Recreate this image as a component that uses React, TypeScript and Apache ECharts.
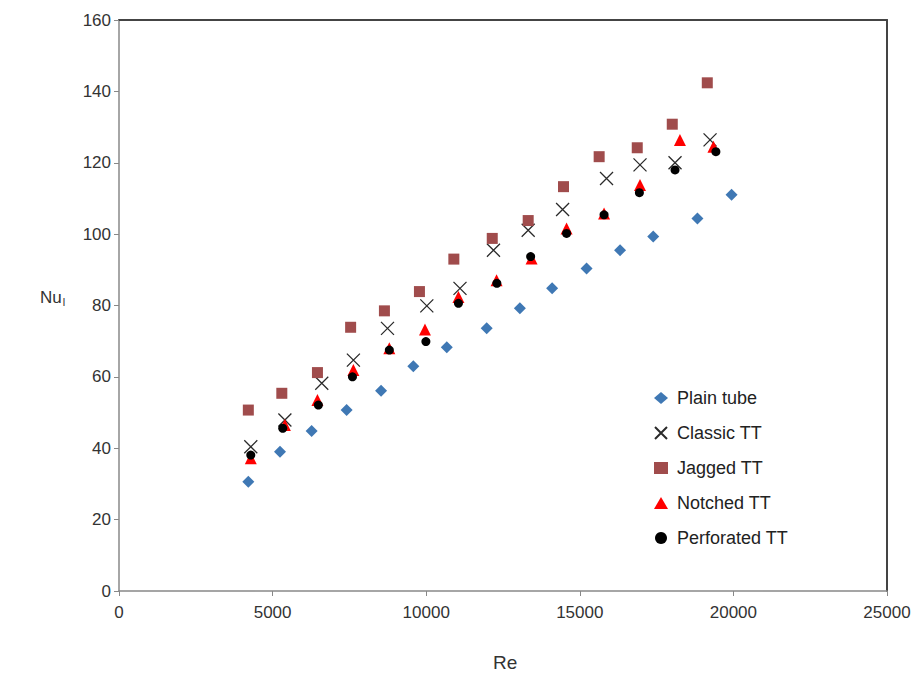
import React, { useEffect, useRef } from "react";
import * as echarts from "echarts";

// Re and Nu_l values
const plainRe = [4210, 5240, 6270, 7410, 8530, 9580, 10670, 11970, 13050, 14100, 15220, 16310, 17390, 18830, 19940];
const plainNu = [30.6, 39.0, 44.8, 50.7, 56.1, 63.0, 68.3, 73.6, 79.2, 84.8, 90.4, 95.5, 99.3, 104.4, 111.0];

const classicRe = [4290, 5400, 6600, 7630, 8740, 10020, 11100, 12190, 13320, 14440, 15870, 16960, 18100, 19240];
const classicNu = [40.4, 47.9, 58.2, 64.7, 73.6, 79.9, 84.8, 95.5, 101.1, 106.9, 115.6, 119.4, 120.0, 126.4];

const jaggedRe = [4210, 5300, 6460, 7540, 8640, 9780, 10900, 12150, 13320, 14470, 15630, 16870, 18010, 19150];
const jaggedNu = [50.7, 55.4, 61.2, 73.9, 78.5, 83.9, 93.0, 98.8, 103.8, 113.3, 121.7, 124.2, 130.8, 142.4];

const notchedRe = [4290, 5400, 6460, 7630, 8800, 9960, 11050, 12290, 13430, 14570, 15790, 16960, 18260, 19350];
const notchedNu = [37.2, 46.5, 53.5, 61.9, 68.0, 73.3, 82.4, 87.1, 93.2, 101.6, 105.8, 113.8, 126.4, 124.5];

const perforatedRe = [4290, 5330, 6490, 7600, 8800, 9990, 11050, 12300, 13400, 14570, 15790, 16940, 18100, 19430];
const perforatedNu = [38.1, 45.6, 52.1, 60.0, 67.5, 69.9, 80.6, 86.2, 93.7, 100.2, 105.4, 111.6, 118.0, 123.1];

const seriesNames = ["Plain tube", "Classic TT", "Jagged TT", "Notched TT", "Perforated TT"];

const pairs = (xs: number[], ys: number[]) => xs.map((x, i) => [x, ys[i]]);

const CROSS = "path://M0,0L10,10M10,0L0,10";
const FONT = "Liberation Sans, Arial, sans-serif";

export default function App() {
  const ref = useRef<HTMLDivElement>(null);
  useEffect(() => {
    document.body.style.margin = "0";
    const chart = echarts.init(ref.current!, null, { renderer: "svg" });
    const labelStyle = { fontFamily: FONT, fontSize: 17, color: "#333", formatter: (v: number) => String(v) };
    chart.setOption({
      animation: false,
      backgroundColor: "#fff",
      grid: { left: 119, top: 20, right: 31, bottom: 84, show: false },
      xAxis: [
        {
          type: "value",
          min: 0,
          max: 25000,
          interval: 5000,
          splitLine: { show: false },
          axisLine: { show: true, onZero: false, lineStyle: { color: "#888", width: 1.5 } },
          axisTick: { show: true, inside: false, length: 5, lineStyle: { color: "#888" } },
          axisLabel: { ...labelStyle, margin: 13 },
        },
        {
          type: "value",
          position: "top",
          min: 0,
          max: 25000,
          interval: 5000,
          splitLine: { show: false },
          axisLine: { show: true, onZero: false, lineStyle: { color: "#444", width: 2 } },
          axisTick: { show: false },
          axisLabel: { show: false },
        },
      ],
      yAxis: [
        {
          type: "value",
          min: 0,
          max: 160,
          interval: 20,
          splitLine: { show: false },
          axisLine: { show: true, onZero: false, lineStyle: { color: "#888", width: 1.5 } },
          axisTick: { show: true, inside: false, length: 5, lineStyle: { color: "#888" } },
          axisLabel: { ...labelStyle, margin: 8 },
        },
        {
          type: "value",
          position: "right",
          min: 0,
          max: 160,
          interval: 20,
          splitLine: { show: false },
          axisLine: { show: true, onZero: false, lineStyle: { color: "#444", width: 2 } },
          axisTick: { show: false },
          axisLabel: { show: false },
        },
      ],
      legend: {
        orient: "vertical",
        left: 649,
        top: 383,
        itemGap: 15,
        itemWidth: 14,
        itemHeight: 12,
        textStyle: { fontFamily: FONT, fontSize: 18, color: "#222", lineHeight: 20, padding: [0, 0, 0, 4] },
        data: seriesNames,
      },
      series: [
        {
          name: seriesNames[0],
          type: "scatter",
          symbol: "diamond",
          symbolSize: 12,
          itemStyle: { color: "#3f78b4", opacity: 1 },
          data: pairs(plainRe, plainNu),
        },
        {
          name: seriesNames[1],
          type: "scatter",
          symbol: CROSS,
          symbolSize: 13,
          itemStyle: { color: "rgba(0,0,0,0)", borderColor: "#2a2a2a", borderWidth: 1.3, opacity: 1 },
          data: pairs(classicRe, classicNu),
        },
        {
          name: seriesNames[2],
          type: "scatter",
          symbol: "rect",
          symbolSize: 11,
          itemStyle: { color: "#a04c4c", opacity: 1 },
          data: pairs(jaggedRe, jaggedNu),
        },
        {
          name: seriesNames[3],
          type: "scatter",
          symbol: "triangle",
          symbolSize: 12,
          itemStyle: { color: "#ff0000", opacity: 1 },
          data: pairs(notchedRe, notchedNu),
        },
        {
          name: seriesNames[4],
          type: "scatter",
          symbol: "circle",
          symbolSize: 9,
          itemStyle: { color: "#000", opacity: 1 },
          data: pairs(perforatedRe, perforatedNu),
        },
      ],
      graphic: [
        {
          type: "text",
          left: 40,
          top: 289,
          style: {
            text: "{a|Nu}{b|l}",
            rich: {
              a: { fontFamily: FONT, fontSize: 17, fill: "#333" },
              b: { fontFamily: FONT, fontSize: 11, fill: "#333", padding: [8, 0, 0, 1] },
            },
          },
        },
        {
          type: "text",
          left: 493,
          top: 653,
          style: { text: "Re", fontFamily: FONT, fontSize: 19, fill: "#333" },
        },
      ],
    });
    return () => chart.dispose();
  }, []);
  return <div ref={ref} style={{ position: "fixed", left: 0, top: 0, width: 918, height: 675 }} />;
}
